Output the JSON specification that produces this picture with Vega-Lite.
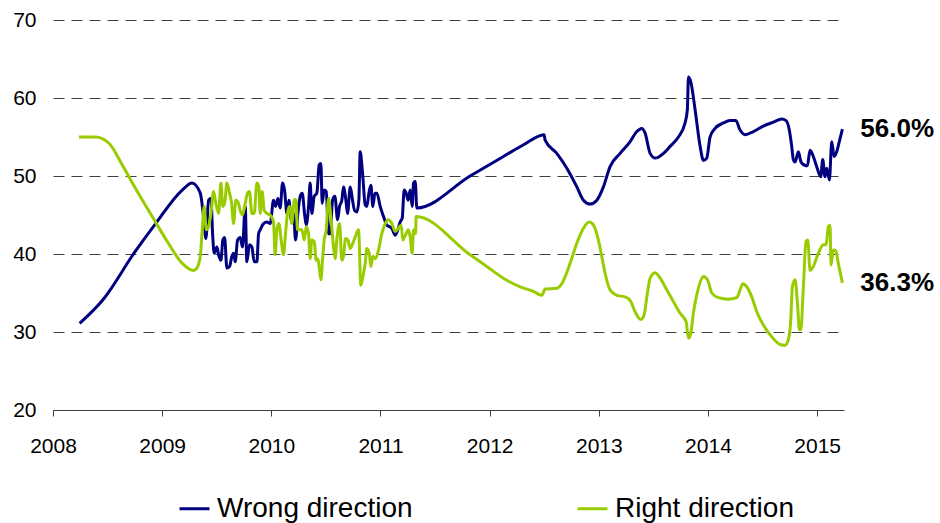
{
 "$schema": "https://vega.github.io/schema/vega-lite/v6.json",
 "width": 791, "height": 390,
 "autosize": {"type": "none"},
 "padding": {"left": 53, "top": 20, "right": 96, "bottom": 113},
 "config": {"font": "Liberation Sans", "view": {"stroke": null}},
 "datasets": {
  "series": [
{"s":"Wrong direction","t":2008.244,"v":31.1},{"s":"Wrong direction","t":2008.467,"v":34.3},{"s":"Wrong direction","t":2008.742,"v":40.1},{"s":"Wrong direction","t":2008.940,"v":43.9},{"s":"Wrong direction","t":2009.184,"v":48.2},{"s":"Wrong direction","t":2009.273,"v":49.1},{"s":"Wrong direction","t":2009.349,"v":47.8},{"s":"Wrong direction","t":2009.379,"v":44.8},{"s":"Wrong direction","t":2009.401,"v":42.0},{"s":"Wrong direction","t":2009.425,"v":46.9},{"s":"Wrong direction","t":2009.447,"v":47.1},{"s":"Wrong direction","t":2009.462,"v":42.6},{"s":"Wrong direction","t":2009.477,"v":40.1},{"s":"Wrong direction","t":2009.502,"v":40.9},{"s":"Wrong direction","t":2009.517,"v":39.9},{"s":"Wrong direction","t":2009.538,"v":39.2},{"s":"Wrong direction","t":2009.556,"v":41.8},{"s":"Wrong direction","t":2009.572,"v":42.1},{"s":"Wrong direction","t":2009.593,"v":38.2},{"s":"Wrong direction","t":2009.617,"v":38.4},{"s":"Wrong direction","t":2009.639,"v":39.7},{"s":"Wrong direction","t":2009.654,"v":40.1},{"s":"Wrong direction","t":2009.669,"v":39.0},{"s":"Wrong direction","t":2009.691,"v":41.8},{"s":"Wrong direction","t":2009.715,"v":42.1},{"s":"Wrong direction","t":2009.736,"v":40.9},{"s":"Wrong direction","t":2009.761,"v":46.1},{"s":"Wrong direction","t":2009.776,"v":39.0},{"s":"Wrong direction","t":2009.800,"v":41.2},{"s":"Wrong direction","t":2009.822,"v":40.9},{"s":"Wrong direction","t":2009.843,"v":39.0},{"s":"Wrong direction","t":2009.868,"v":39.0},{"s":"Wrong direction","t":2009.883,"v":42.6},{"s":"Wrong direction","t":2009.898,"v":43.1},{"s":"Wrong direction","t":2009.929,"v":43.9},{"s":"Wrong direction","t":2009.959,"v":44.1},{"s":"Wrong direction","t":2009.990,"v":43.9},{"s":"Wrong direction","t":2010.020,"v":46.9},{"s":"Wrong direction","t":2010.039,"v":46.1},{"s":"Wrong direction","t":2010.060,"v":47.1},{"s":"Wrong direction","t":2010.081,"v":45.9},{"s":"Wrong direction","t":2010.103,"v":49.1},{"s":"Wrong direction","t":2010.121,"v":48.2},{"s":"Wrong direction","t":2010.143,"v":45.2},{"s":"Wrong direction","t":2010.161,"v":46.9},{"s":"Wrong direction","t":2010.182,"v":44.4},{"s":"Wrong direction","t":2010.204,"v":45.2},{"s":"Wrong direction","t":2010.222,"v":41.8},{"s":"Wrong direction","t":2010.243,"v":45.2},{"s":"Wrong direction","t":2010.265,"v":47.4},{"s":"Wrong direction","t":2010.283,"v":47.8},{"s":"Wrong direction","t":2010.304,"v":45.2},{"s":"Wrong direction","t":2010.320,"v":43.7},{"s":"Wrong direction","t":2010.341,"v":46.1},{"s":"Wrong direction","t":2010.356,"v":49.1},{"s":"Wrong direction","t":2010.371,"v":45.2},{"s":"Wrong direction","t":2010.393,"v":47.4},{"s":"Wrong direction","t":2010.417,"v":47.8},{"s":"Wrong direction","t":2010.438,"v":51.4},{"s":"Wrong direction","t":2010.454,"v":51.6},{"s":"Wrong direction","t":2010.466,"v":46.5},{"s":"Wrong direction","t":2010.484,"v":48.2},{"s":"Wrong direction","t":2010.503,"v":48.0},{"s":"Wrong direction","t":2010.524,"v":42.6},{"s":"Wrong direction","t":2010.539,"v":42.6},{"s":"Wrong direction","t":2010.561,"v":46.9},{"s":"Wrong direction","t":2010.582,"v":47.4},{"s":"Wrong direction","t":2010.607,"v":44.4},{"s":"Wrong direction","t":2010.625,"v":46.1},{"s":"Wrong direction","t":2010.646,"v":46.9},{"s":"Wrong direction","t":2010.661,"v":48.6},{"s":"Wrong direction","t":2010.683,"v":46.9},{"s":"Wrong direction","t":2010.698,"v":45.2},{"s":"Wrong direction","t":2010.723,"v":48.6},{"s":"Wrong direction","t":2010.744,"v":46.9},{"s":"Wrong direction","t":2010.762,"v":45.6},{"s":"Wrong direction","t":2010.784,"v":45.4},{"s":"Wrong direction","t":2010.802,"v":46.9},{"s":"Wrong direction","t":2010.814,"v":53.1},{"s":"Wrong direction","t":2010.836,"v":50.3},{"s":"Wrong direction","t":2010.860,"v":46.3},{"s":"Wrong direction","t":2010.875,"v":46.1},{"s":"Wrong direction","t":2010.894,"v":47.8},{"s":"Wrong direction","t":2010.912,"v":48.8},{"s":"Wrong direction","t":2010.930,"v":46.1},{"s":"Wrong direction","t":2010.949,"v":47.8},{"s":"Wrong direction","t":2010.967,"v":47.8},{"s":"Wrong direction","t":2010.997,"v":46.1},{"s":"Wrong direction","t":2011.028,"v":44.8},{"s":"Wrong direction","t":2011.058,"v":43.7},{"s":"Wrong direction","t":2011.083,"v":43.5},{"s":"Wrong direction","t":2011.104,"v":43.3},{"s":"Wrong direction","t":2011.134,"v":42.4},{"s":"Wrong direction","t":2011.159,"v":43.1},{"s":"Wrong direction","t":2011.180,"v":44.1},{"s":"Wrong direction","t":2011.199,"v":44.6},{"s":"Wrong direction","t":2011.217,"v":48.2},{"s":"Wrong direction","t":2011.235,"v":47.8},{"s":"Wrong direction","t":2011.254,"v":46.9},{"s":"Wrong direction","t":2011.272,"v":48.2},{"s":"Wrong direction","t":2011.290,"v":46.1},{"s":"Wrong direction","t":2011.303,"v":49.1},{"s":"Wrong direction","t":2011.318,"v":49.3},{"s":"Wrong direction","t":2011.333,"v":45.9},{"s":"Wrong direction","t":2011.821,"v":50.0},{"s":"Wrong direction","t":2012.126,"v":52.5},{"s":"Wrong direction","t":2012.310,"v":54.0},{"s":"Wrong direction","t":2012.499,"v":55.3},{"s":"Wrong direction","t":2012.508,"v":54.6},{"s":"Wrong direction","t":2012.615,"v":52.9},{"s":"Wrong direction","t":2012.707,"v":51.0},{"s":"Wrong direction","t":2012.799,"v":48.6},{"s":"Wrong direction","t":2012.859,"v":46.9},{"s":"Wrong direction","t":2012.920,"v":46.4},{"s":"Wrong direction","t":2012.982,"v":46.9},{"s":"Wrong direction","t":2013.042,"v":48.6},{"s":"Wrong direction","t":2013.103,"v":51.2},{"s":"Wrong direction","t":2013.195,"v":52.9},{"s":"Wrong direction","t":2013.287,"v":54.4},{"s":"Wrong direction","t":2013.348,"v":55.7},{"s":"Wrong direction","t":2013.394,"v":56.1},{"s":"Wrong direction","t":2013.424,"v":55.5},{"s":"Wrong direction","t":2013.470,"v":52.9},{"s":"Wrong direction","t":2013.516,"v":52.3},{"s":"Wrong direction","t":2013.592,"v":52.9},{"s":"Wrong direction","t":2013.653,"v":53.8},{"s":"Wrong direction","t":2013.729,"v":55.0},{"s":"Wrong direction","t":2013.790,"v":56.8},{"s":"Wrong direction","t":2013.811,"v":58.5},{"s":"Wrong direction","t":2013.821,"v":62.7},{"s":"Wrong direction","t":2013.842,"v":62.1},{"s":"Wrong direction","t":2013.882,"v":58.5},{"s":"Wrong direction","t":2013.928,"v":53.8},{"s":"Wrong direction","t":2013.958,"v":52.0},{"s":"Wrong direction","t":2013.989,"v":52.3},{"s":"Wrong direction","t":2014.019,"v":55.0},{"s":"Wrong direction","t":2014.065,"v":56.1},{"s":"Wrong direction","t":2014.141,"v":56.8},{"s":"Wrong direction","t":2014.202,"v":57.1},{"s":"Wrong direction","t":2014.255,"v":57.1},{"s":"Wrong direction","t":2014.294,"v":55.9},{"s":"Wrong direction","t":2014.340,"v":55.3},{"s":"Wrong direction","t":2014.416,"v":55.7},{"s":"Wrong direction","t":2014.507,"v":56.4},{"s":"Wrong direction","t":2014.599,"v":56.9},{"s":"Wrong direction","t":2014.676,"v":57.3},{"s":"Wrong direction","t":2014.715,"v":57.1},{"s":"Wrong direction","t":2014.745,"v":55.9},{"s":"Wrong direction","t":2014.767,"v":53.8},{"s":"Wrong direction","t":2014.782,"v":52.1},{"s":"Wrong direction","t":2014.798,"v":51.8},{"s":"Wrong direction","t":2014.828,"v":53.1},{"s":"Wrong direction","t":2014.852,"v":51.8},{"s":"Wrong direction","t":2014.883,"v":51.4},{"s":"Wrong direction","t":2014.910,"v":51.3},{"s":"Wrong direction","t":2014.935,"v":53.3},{"s":"Wrong direction","t":2014.965,"v":52.5},{"s":"Wrong direction","t":2014.996,"v":51.2},{"s":"Wrong direction","t":2015.033,"v":49.9},{"s":"Wrong direction","t":2015.051,"v":52.1},{"s":"Wrong direction","t":2015.072,"v":49.9},{"s":"Wrong direction","t":2015.088,"v":51.0},{"s":"Wrong direction","t":2015.112,"v":49.5},{"s":"Wrong direction","t":2015.134,"v":54.4},{"s":"Wrong direction","t":2015.155,"v":52.5},{"s":"Wrong direction","t":2015.179,"v":53.1},{"s":"Wrong direction","t":2015.203,"v":54.4},{"s":"Wrong direction","t":2015.231,"v":56.0},
{"s":"Right direction","t":2008.238,"v":55.0},{"s":"Right direction","t":2008.390,"v":55.0},{"s":"Right direction","t":2008.513,"v":54.2},{"s":"Right direction","t":2008.635,"v":51.4},{"s":"Right direction","t":2008.756,"v":48.4},{"s":"Right direction","t":2008.909,"v":44.8},{"s":"Right direction","t":2009.047,"v":41.6},{"s":"Right direction","t":2009.184,"v":38.8},{"s":"Right direction","t":2009.288,"v":37.9},{"s":"Right direction","t":2009.318,"v":38.2},{"s":"Right direction","t":2009.349,"v":39.7},{"s":"Right direction","t":2009.367,"v":43.1},{"s":"Right direction","t":2009.385,"v":46.1},{"s":"Right direction","t":2009.404,"v":43.1},{"s":"Right direction","t":2009.425,"v":43.5},{"s":"Right direction","t":2009.447,"v":45.2},{"s":"Right direction","t":2009.471,"v":48.0},{"s":"Right direction","t":2009.492,"v":46.5},{"s":"Right direction","t":2009.517,"v":45.2},{"s":"Right direction","t":2009.538,"v":49.1},{"s":"Right direction","t":2009.556,"v":46.1},{"s":"Right direction","t":2009.575,"v":46.7},{"s":"Right direction","t":2009.593,"v":49.1},{"s":"Right direction","t":2009.614,"v":48.0},{"s":"Right direction","t":2009.636,"v":46.5},{"s":"Right direction","t":2009.654,"v":43.9},{"s":"Right direction","t":2009.675,"v":46.9},{"s":"Right direction","t":2009.694,"v":46.7},{"s":"Right direction","t":2009.715,"v":45.6},{"s":"Right direction","t":2009.736,"v":45.0},{"s":"Right direction","t":2009.761,"v":46.5},{"s":"Right direction","t":2009.782,"v":47.8},{"s":"Right direction","t":2009.800,"v":48.0},{"s":"Right direction","t":2009.822,"v":45.2},{"s":"Right direction","t":2009.843,"v":45.2},{"s":"Right direction","t":2009.868,"v":49.1},{"s":"Right direction","t":2009.886,"v":48.6},{"s":"Right direction","t":2009.898,"v":45.2},{"s":"Right direction","t":2009.916,"v":48.0},{"s":"Right direction","t":2009.935,"v":45.6},{"s":"Right direction","t":2009.959,"v":45.2},{"s":"Right direction","t":2009.990,"v":45.0},{"s":"Right direction","t":2010.020,"v":44.1},{"s":"Right direction","t":2010.035,"v":39.9},{"s":"Right direction","t":2010.051,"v":43.1},{"s":"Right direction","t":2010.069,"v":43.9},{"s":"Right direction","t":2010.090,"v":41.8},{"s":"Right direction","t":2010.112,"v":39.9},{"s":"Right direction","t":2010.130,"v":42.6},{"s":"Right direction","t":2010.148,"v":45.2},{"s":"Right direction","t":2010.167,"v":46.1},{"s":"Right direction","t":2010.188,"v":43.9},{"s":"Right direction","t":2010.210,"v":46.9},{"s":"Right direction","t":2010.225,"v":47.0},{"s":"Right direction","t":2010.240,"v":43.1},{"s":"Right direction","t":2010.259,"v":43.1},{"s":"Right direction","t":2010.280,"v":43.1},{"s":"Right direction","t":2010.301,"v":41.8},{"s":"Right direction","t":2010.320,"v":43.5},{"s":"Right direction","t":2010.341,"v":42.6},{"s":"Right direction","t":2010.356,"v":39.4},{"s":"Right direction","t":2010.371,"v":41.8},{"s":"Right direction","t":2010.393,"v":41.6},{"s":"Right direction","t":2010.411,"v":39.2},{"s":"Right direction","t":2010.426,"v":39.4},{"s":"Right direction","t":2010.438,"v":38.4},{"s":"Right direction","t":2010.454,"v":36.7},{"s":"Right direction","t":2010.469,"v":39.2},{"s":"Right direction","t":2010.484,"v":41.8},{"s":"Right direction","t":2010.503,"v":43.1},{"s":"Right direction","t":2010.524,"v":47.1},{"s":"Right direction","t":2010.545,"v":44.8},{"s":"Right direction","t":2010.570,"v":40.9},{"s":"Right direction","t":2010.585,"v":39.4},{"s":"Right direction","t":2010.600,"v":41.8},{"s":"Right direction","t":2010.625,"v":43.9},{"s":"Right direction","t":2010.646,"v":39.2},{"s":"Right direction","t":2010.661,"v":39.7},{"s":"Right direction","t":2010.680,"v":42.0},{"s":"Right direction","t":2010.701,"v":41.8},{"s":"Right direction","t":2010.723,"v":40.7},{"s":"Right direction","t":2010.747,"v":41.4},{"s":"Right direction","t":2010.769,"v":42.2},{"s":"Right direction","t":2010.799,"v":43.1},{"s":"Right direction","t":2010.820,"v":36.0},{"s":"Right direction","t":2010.839,"v":37.1},{"s":"Right direction","t":2010.860,"v":38.8},{"s":"Right direction","t":2010.875,"v":40.7},{"s":"Right direction","t":2010.897,"v":40.1},{"s":"Right direction","t":2010.912,"v":38.4},{"s":"Right direction","t":2010.930,"v":39.7},{"s":"Right direction","t":2010.952,"v":39.4},{"s":"Right direction","t":2010.982,"v":40.5},{"s":"Right direction","t":2011.012,"v":42.6},{"s":"Right direction","t":2011.043,"v":43.9},{"s":"Right direction","t":2011.073,"v":44.4},{"s":"Right direction","t":2011.104,"v":43.9},{"s":"Right direction","t":2011.134,"v":42.9},{"s":"Right direction","t":2011.165,"v":43.3},{"s":"Right direction","t":2011.189,"v":43.7},{"s":"Right direction","t":2011.205,"v":41.8},{"s":"Right direction","t":2011.220,"v":42.2},{"s":"Right direction","t":2011.235,"v":42.6},{"s":"Right direction","t":2011.254,"v":43.1},{"s":"Right direction","t":2011.272,"v":42.2},{"s":"Right direction","t":2011.290,"v":40.1},{"s":"Right direction","t":2011.303,"v":43.1},{"s":"Right direction","t":2011.321,"v":42.6},{"s":"Right direction","t":2011.327,"v":44.8},{"s":"Right direction","t":2011.821,"v":39.9},{"s":"Right direction","t":2011.974,"v":38.4},{"s":"Right direction","t":2012.126,"v":36.9},{"s":"Right direction","t":2012.279,"v":35.8},{"s":"Right direction","t":2012.401,"v":35.2},{"s":"Right direction","t":2012.478,"v":34.7},{"s":"Right direction","t":2012.508,"v":35.5},{"s":"Right direction","t":2012.615,"v":35.6},{"s":"Right direction","t":2012.661,"v":36.2},{"s":"Right direction","t":2012.737,"v":38.8},{"s":"Right direction","t":2012.799,"v":41.4},{"s":"Right direction","t":2012.859,"v":43.3},{"s":"Right direction","t":2012.911,"v":44.1},{"s":"Right direction","t":2012.951,"v":43.7},{"s":"Right direction","t":2012.996,"v":41.8},{"s":"Right direction","t":2013.027,"v":39.7},{"s":"Right direction","t":2013.058,"v":37.5},{"s":"Right direction","t":2013.103,"v":35.4},{"s":"Right direction","t":2013.165,"v":34.7},{"s":"Right direction","t":2013.241,"v":34.5},{"s":"Right direction","t":2013.293,"v":33.9},{"s":"Right direction","t":2013.332,"v":32.6},{"s":"Right direction","t":2013.385,"v":31.6},{"s":"Right direction","t":2013.415,"v":32.2},{"s":"Right direction","t":2013.445,"v":35.0},{"s":"Right direction","t":2013.470,"v":36.9},{"s":"Right direction","t":2013.516,"v":37.6},{"s":"Right direction","t":2013.562,"v":36.9},{"s":"Right direction","t":2013.623,"v":35.4},{"s":"Right direction","t":2013.683,"v":33.9},{"s":"Right direction","t":2013.745,"v":32.4},{"s":"Right direction","t":2013.800,"v":31.3},{"s":"Right direction","t":2013.821,"v":29.2},{"s":"Right direction","t":2013.842,"v":29.8},{"s":"Right direction","t":2013.866,"v":32.4},{"s":"Right direction","t":2013.912,"v":35.6},{"s":"Right direction","t":2013.958,"v":37.1},{"s":"Right direction","t":2013.995,"v":36.7},{"s":"Right direction","t":2014.035,"v":35.0},{"s":"Right direction","t":2014.095,"v":34.4},{"s":"Right direction","t":2014.187,"v":34.2},{"s":"Right direction","t":2014.264,"v":34.4},{"s":"Right direction","t":2014.294,"v":35.4},{"s":"Right direction","t":2014.319,"v":36.2},{"s":"Right direction","t":2014.355,"v":35.8},{"s":"Right direction","t":2014.401,"v":34.5},{"s":"Right direction","t":2014.447,"v":32.6},{"s":"Right direction","t":2014.507,"v":30.9},{"s":"Right direction","t":2014.584,"v":29.4},{"s":"Right direction","t":2014.660,"v":28.4},{"s":"Right direction","t":2014.706,"v":28.3},{"s":"Right direction","t":2014.736,"v":29.0},{"s":"Right direction","t":2014.758,"v":31.5},{"s":"Right direction","t":2014.773,"v":35.8},{"s":"Right direction","t":2014.798,"v":36.7},{"s":"Right direction","t":2014.822,"v":33.2},{"s":"Right direction","t":2014.837,"v":30.3},{"s":"Right direction","t":2014.850,"v":30.3},{"s":"Right direction","t":2014.874,"v":35.8},{"s":"Right direction","t":2014.898,"v":41.6},{"s":"Right direction","t":2014.914,"v":41.8},{"s":"Right direction","t":2014.935,"v":37.9},{"s":"Right direction","t":2014.965,"v":38.4},{"s":"Right direction","t":2015.011,"v":40.1},{"s":"Right direction","t":2015.057,"v":41.2},{"s":"Right direction","t":2015.081,"v":41.2},{"s":"Right direction","t":2015.103,"v":43.5},{"s":"Right direction","t":2015.118,"v":43.7},{"s":"Right direction","t":2015.127,"v":38.6},{"s":"Right direction","t":2015.148,"v":40.5},{"s":"Right direction","t":2015.170,"v":40.4},{"s":"Right direction","t":2015.194,"v":38.8},{"s":"Right direction","t":2015.231,"v":36.3}
  ],
  "labels": [
   {"t": 2015.231, "v": 56.0, "label": "56.0%"},
   {"t": 2015.231, "v": 36.3, "label": "36.3%"}
  ]
 },
 "layer": [
  {
   "data": {"name": "series"},
   "mark": {"type": "line", "strokeWidth": 3, "interpolate": "monotone"},
   "encoding": {
    "x": {"field": "t", "type": "quantitative",
     "scale": {"domain": [2008, 2015.246], "nice": false, "zero": false},
     "axis": {"values": [2008, 2009, 2010, 2011, 2012, 2013, 2014, 2015], "format": "d", "title": null, "grid": false,
      "domainColor": "#404040", "tickColor": "#404040", "tickSize": 6, "labelFontSize": 21, "labelColor": "#000000",
      "labelPadding": 19, "labelFlush": false, "labelOverlap": false}},
    "y": {"field": "v", "type": "quantitative",
     "scale": {"domain": [20, 70], "nice": false, "zero": false},
     "axis": {"values": [20, 30, 40, 50, 60, 70], "title": null, "domain": false, "ticks": false, "grid": true,
      "gridDash": [11, 7], "gridColor": "#404040", "gridWidth": 1, "labelFontSize": 21, "labelPadding": 17, "labelColor": "#000000"}},
    "color": {"field": "s", "type": "nominal",
     "scale": {"domain": ["Wrong direction", "Right direction"], "range": ["#000080", "#99CC00"]},
     "legend": {"title": null, "orient": "none", "legendX": 125, "legendY": 472, "direction": "horizontal",
      "symbolType": "stroke", "symbolSize": 900, "symbolStrokeWidth": 3, "labelFontSize": 28, "labelOffset": 6,
      "columnPadding": 158, "padding": 0, "labelLimit": 400, "labelColor": "#000000"}}
   }
  },
  {
   "data": {"name": "labels"},
   "mark": {"type": "text", "align": "left", "baseline": "middle", "dx": 18, "fontSize": 26, "fontWeight": "bold", "color": "#000000"},
   "encoding": {
    "x": {"field": "t", "type": "quantitative"},
    "y": {"field": "v", "type": "quantitative"},
    "text": {"field": "label"}
   }
  }
 ]
}
